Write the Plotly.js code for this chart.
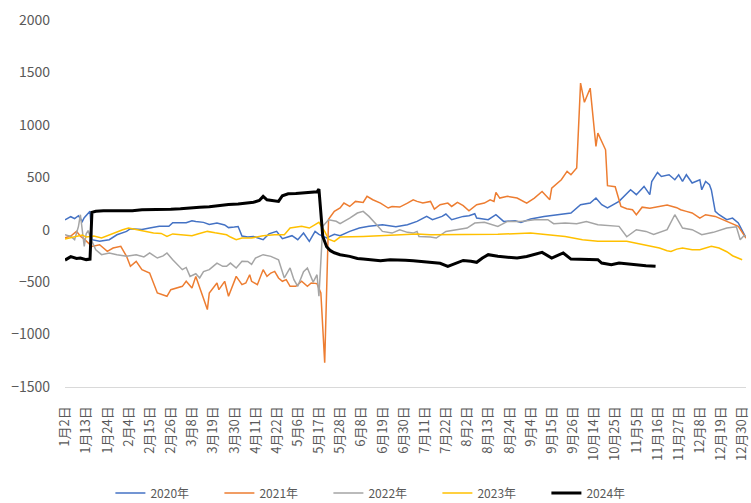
<!DOCTYPE html>
<html>
<head>
<meta charset="utf-8">
<script src="https://cdn.plot.ly/plotly-3.0.1.min.js"></script>
<style>html,body{margin:0;padding:0;background:#fff;}#chart{width:751px;height:503px;}</style>
</head>
<body>
<div id="chart"></div>
<script>
// Category tick labels (every 11th trading-day category, index 0..352)
const tickIdx = [0,11,22,33,44,55,66,77,88,99,110,121,132,143,154,165,176,187,198,209,220,231,242,253,264,275,286,297,308,319,330,341,352];
const tickLabels = ["1月2日","1月13日","1月24日","2月4日","2月15日","2月26日","3月8日","3月19日","3月30日","4月11日","4月22日","5月6日","5月17日","5月28日","6月8日","6月19日","6月30日","7月11日","7月22日","8月2日","8月13日","8月24日","9月4日","9月15日","9月26日","10月14日","10月25日","11月5日","11月16日","11月27日","12月8日","12月19日","12月30日"];
const seriesNames = ["2020年","2021年","2022年","2023年","2024年"];

// 2020
const x2020 = [0,3,5,7,9,10,13,14,18,23,27,32,34,40,44,49,54,56,63,66,68,72,75,79,83,85,88,90,92,95,98,103,106,110,113,118,121,124,127,130,132,136,140,143,148,153,158,165,172,178,183,188,191,196,198,201,207,210,213,214,220,224,228,234,237,242,249,256,263,268,273,276,279,282,288,294,297,301,304,305,308,310,314,317,319,321,323,326,330,331,333,335,336,338,340,344,347,350,354];
const v2020 = [95,124,105,133,79,114,175,-95,-111,-95,-48,-16,10,3,16,32,32,67,67,86,79,70,50,63,45,20,25,30,-60,-70,-64,-95,-40,-16,-85,-57,-95,-32,-111,-16,-44,-79,-44,-57,-16,16,32,48,29,48,79,127,95,127,150,95,127,133,152,111,95,143,79,86,70,102,127,143,159,238,254,302,238,207,270,381,334,413,334,460,546,508,524,477,524,460,524,445,477,381,460,429,380,175,143,95,111,64,-79];

// 2021
const x2021 = [0,3,6,8,10,14,18,22,25,29,32,34,37,40,44,48,53,55,61,63,66,68,74,75,79,80,83,85,89,92,94,96,97,100,103,105,107,109,111,113,115,117,120,123,126,128,131,132,133,135,137,140,143,145,148,151,155,157,160,164,168,170,174,178,181,183,186,190,192,195,199,201,204,207,210,214,218,221,223,224,226,230,235,240,244,248,252,253,258,261,263,266,268,270,273,276,277,281,282,286,289,292,295,297,300,304,309,313,318,320,323,326,330,333,338,342,347,350,354];
const v2021 = [-76,-60,-16,-63,-90,-159,-143,-207,-175,-159,-254,-349,-302,-381,-413,-603,-635,-572,-540,-492,-556,-445,-762,-603,-508,-572,-492,-635,-445,-524,-508,-429,-492,-524,-381,-445,-413,-397,-460,-492,-476,-540,-540,-492,-540,-508,-514,-560,-603,-1268,100,175,207,254,222,270,260,318,286,254,207,222,216,254,286,270,254,270,197,238,254,222,260,230,180,238,254,286,270,356,302,318,302,254,302,365,286,397,477,556,524,588,1398,1215,1350,794,921,762,420,410,222,200,191,143,215,205,225,235,210,191,175,160,111,143,127,95,60,32,-79];

// 2022
const x2022 = [0,3,5,7,8,10,11,12,14,16,19,23,27,32,37,41,44,48,51,53,56,61,63,65,68,70,72,75,77,79,82,84,86,89,92,95,97,99,103,107,111,114,117,119,121,124,126,129,131,132,134,137,141,143,148,152,155,158,162,165,170,174,178,181,183,184,190,193,198,203,209,213,218,225,230,237,244,251,254,260,266,271,277,288,292,297,302,306,313,317,321,326,331,337,344,349,351,353,354];
const v2022 = [-48,-64,-95,32,143,-159,-40,-8,-111,-191,-238,-222,-238,-254,-238,-260,-222,-270,-250,-222,-286,-381,-360,-445,-420,-460,-400,-381,-349,-318,-349,-349,-318,-365,-300,-302,-330,-270,-238,-254,-286,-460,-365,-476,-540,-400,-365,-500,-429,-635,32,95,80,57,111,159,175,127,48,-16,-32,0,-25,-32,-16,-64,-70,-79,-16,0,16,64,70,32,79,79,95,95,57,64,57,79,48,32,-67,0,-16,-45,0,143,16,0,-48,-25,16,28,-95,-55,-60];

// 2023
const x2023 = [0,5,9,11,15,19,25,30,33,37,41,46,50,53,56,63,66,69,72,74,78,81,84,86,89,92,97,103,109,114,117,123,127,130,132,135,137,140,143,155,172,183,190,207,225,242,251,260,269,277,283,292,297,301,304,309,313,315,318,321,326,330,336,340,344,347,352];
const v2023 = [-89,-64,-50,-70,-60,-79,-32,0,16,0,-16,-32,-35,-64,-40,-48,-57,-40,-25,-16,-30,-40,-48,-70,-95,-79,-79,-57,-48,-48,16,32,16,48,70,-16,-90,-111,-70,-64,-48,-40,-48,-48,-44,-32,-48,-64,-95,-111,-111,-111,-130,-143,-159,-175,-200,-207,-185,-175,-191,-191,-159,-175,-210,-248,-286];

// 2024
const x2024 = [0,3,6,8,11,13,14,16,20,25,30,35,40,45,50,55,60,65,70,75,80,85,90,95,98,101,103,105,108,111,113,116,120,125,131,132,134,136,138,140,143,148,152,155,160,164,169,172,177,181,186,190,195,199,203,207,211,214,217,220,225,230,235,240,243,248,253,259,263,270,277,279,284,288,295,302,307];
const v2024 = [-290,-257,-275,-270,-285,-280,165,175,180,180,185,180,190,190,195,195,200,210,215,220,232,240,245,254,262,279,318,285,280,270,324,343,345,356,362,388,-64,-162,-200,-220,-238,-254,-275,-280,-288,-295,-286,-286,-292,-295,-302,-311,-320,-349,-320,-293,-300,-311,-270,-238,-254,-260,-270,-255,-238,-216,-270,-222,-280,-286,-286,-318,-334,-318,-334,-343,-349];

const xs = [x2020,x2021,x2022,x2023,x2024];
const vs = [v2020,v2021,v2022,v2023,v2024];
const colors = ["#4472C4","#ED7D31","#A5A5A5","#FFC000","#000000"];
const widths = [1.5,1.5,1.5,1.5,3];

const FONT = '"Noto Sans CJK SC", "Noto Sans", sans-serif';
const traces = seriesNames.map((n,k)=>({
  type:'scatter', mode:'lines', name:n, x:xs[k], y:vs[k],
  line:{color:colors[k], width:widths[k]}, hoverinfo:'skip'
}));

const layout = {
  width:751, height:503,
  margin:{l:65, r:5, t:20, b:116, autoexpand:false},
  paper_bgcolor:'#ffffff', plot_bgcolor:'#ffffff',
  font:{family:FONT, color:'#595959', size:13},
  showlegend:true,
  legend:{orientation:'h', xref:'container', yref:'container',
          x:0.147, xanchor:'left', y:0.02, yanchor:'middle',
          font:{family:FONT, size:12, color:'#595959'},
          entrywidth:64, entrywidthmode:'pixels', traceorder:'normal'},
  xaxis:{range:[0,354], tickmode:'array', tickvals:tickIdx, ticktext:tickLabels,
         tickangle:-90, showgrid:false, zeroline:false, showline:true,
         linecolor:'#d9d9d9', linewidth:1, ticks:'', ticklabelstandoff:13,
         automargin:false,
         tickfont:{family:FONT, size:13, color:'#595959'}, fixedrange:true},
  yaxis:{range:[-1500,2000], dtick:500, tick0:0, showgrid:false, zeroline:false,
         showline:false, ticks:'', ticklabelstandoff:14, automargin:false,
         tickfont:{family:FONT, size:14, color:'#595959'}, fixedrange:true}
};
Plotly.newPlot('chart', traces, layout, {staticPlot:true, displayModeBar:false});
</script>
</body>
</html>
